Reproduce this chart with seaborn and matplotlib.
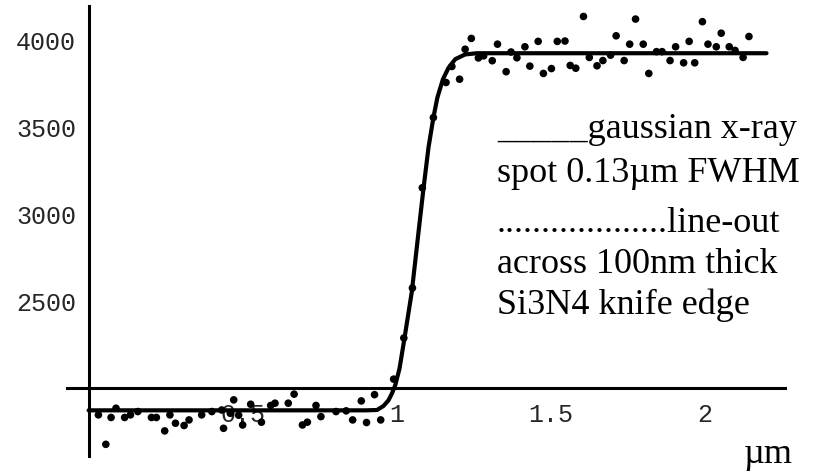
import matplotlib
matplotlib.use("Agg")
import matplotlib.pyplot as plt
import seaborn as sns
import pandas as pd
from matplotlib.ticker import FixedLocator, MultipleLocator

# line-out across the knife edge (position in um, counts)
pos_um = [0.032, 0.056, 0.073, 0.089, 0.117, 0.136, 0.160, 0.204, 0.220, 0.247,
          0.264, 0.282, 0.310, 0.326, 0.367, 0.400, 0.432, 0.438, 0.460, 0.471,
          0.487, 0.500, 0.526, 0.561, 0.591, 0.605, 0.648, 0.667, 0.694, 0.710,
          0.738, 0.754, 0.803, 0.836, 0.857, 0.885, 0.902, 0.928, 0.948, 0.990,
          1.023, 1.051, 1.083, 1.119, 1.160, 1.179, 1.204, 1.222, 1.242, 1.265,
          1.282, 1.310, 1.327, 1.355, 1.371, 1.390, 1.416, 1.432, 1.459, 1.476,
          1.502, 1.521, 1.546, 1.563, 1.581, 1.606, 1.625, 1.650, 1.669, 1.694,
          1.712, 1.738, 1.756, 1.775, 1.800, 1.818, 1.843, 1.861, 1.887, 1.905,
          1.931, 1.949, 1.967, 1.992, 2.010, 2.037, 2.053, 2.079, 2.098, 2.124,
          2.143]
counts = [1844, 1675, 1829, 1882, 1829, 1844, 1863, 1829, 1829, 1752,
          1844, 1796, 1783, 1815, 1844, 1863, 1872, 1767, 1853, 1930,
          1842, 1786, 1905, 1802, 1898, 1911, 1911, 1963, 1786, 1802,
          1898, 1834, 1863, 1867, 1815, 1924, 1800, 1960, 1815, 2049,
          2285, 2572, 3147, 3550, 3751, 3843, 3770, 3942, 4004, 3892,
          3904, 3876, 3971, 3813, 3926, 3893, 3956, 3845, 3987, 3803,
          3831, 3987, 3989, 3849, 3833, 4130, 3895, 3847, 3877, 3908,
          4019, 3877, 3971, 4115, 3971, 3803, 3928, 3928, 3877, 3956,
          3864, 3987, 3864, 4100, 3971, 3956, 4034, 3956, 3935, 3895,
          4015]

# gaussian spot fit
fit_um = [0.0, 0.90, 0.936, 0.957, 0.973, 0.984, 0.995, 1.009, 1.025, 1.049,
          1.071, 1.086, 1.103, 1.119, 1.132, 1.150, 1.168, 1.190, 1.222, 1.26, 2.20]
fit_counts = [1870, 1870, 1872, 1895, 1927, 1965, 2013, 2109, 2282, 2551,
              2897, 3130, 3377, 3550, 3665, 3770, 3835, 3885, 3912, 3919, 3919]

xticks = [0.5, 1, 1.5, 2]
xtick_labels = ["0.5", "1", "1.5", "2"]
yticks = [2500, 3000, 3500, 4000]
ytick_labels = ["2500", "3000", "3500", "4000"]

note_lines = ["_____gaussian x-ray", "spot 0.13\u00b5m FWHM",
              "...................line-out", "across 100nm thick",
              "Si3N4 knife edge"]
unit_label = "\u00b5m"

sns.set_style("white")
plt.rcParams["font.family"] = ["Liberation Serif", "DejaVu Serif"]

fig = plt.figure(figsize=(8.17, 4.77), dpi=100)
ax = fig.add_axes([67 / 817, 1 - 457 / 477, (785 - 67) / 817, (457 - 7) / 477])

sns.lineplot(x=fit_um, y=fit_counts, ax=ax, color="black", lw=3.0,
             sort=False, estimator=None, zorder=2)
sns.scatterplot(x=pos_um, y=counts, ax=ax, color="black", s=30,
                edgecolor="none", zorder=3)

ax.set_xlim(-0.07, 2.26)
ax.set_ylim(1608, 4190)

# Mathematica style crossing axes
for side in ["top", "right"]:
    ax.spines[side].set_visible(False)
ax.spines["left"].set_position(("data", 0))
ax.spines["bottom"].set_position(("data", 2000))
for side in ["left", "bottom"]:
    ax.spines[side].set_linewidth(2.2)
    ax.spines[side].set_color("black")

ax.xaxis.set_major_locator(FixedLocator(xticks))
ax.set_xticklabels(xtick_labels)
ax.xaxis.set_minor_locator(MultipleLocator(0.1))
ax.yaxis.set_major_locator(FixedLocator(yticks))
ax.set_yticklabels(ytick_labels)
ax.yaxis.set_minor_locator(MultipleLocator(100))

ax.tick_params(axis="both", which="major", direction="in", length=5, width=1.8,
               color="black", labelsize=18)
ax.tick_params(axis="both", which="minor", direction="in", length=2.5, width=1.6,
               color="black")
ax.tick_params(axis="x", which="major", pad=10)
ax.tick_params(axis="y", which="major", pad=9)
for lab in ax.get_xticklabels() + ax.get_yticklabels():
    lab.set_family("Liberation Mono")

ax.set_xlabel("")
ax.set_ylabel("")

# notes on the right
baselines = [138, 182, 232, 273, 314]
for txt, yb in zip(note_lines, baselines):
    fig.text(497 / 817, 1 - yb / 477, txt, fontsize=26, va="baseline",
             ha="left", color="black")
fig.text(768 / 817, 1 - 463 / 477, unit_label, fontsize=26, va="baseline",
         ha="center", color="black")

fig.savefig("out.png", dpi=100)
